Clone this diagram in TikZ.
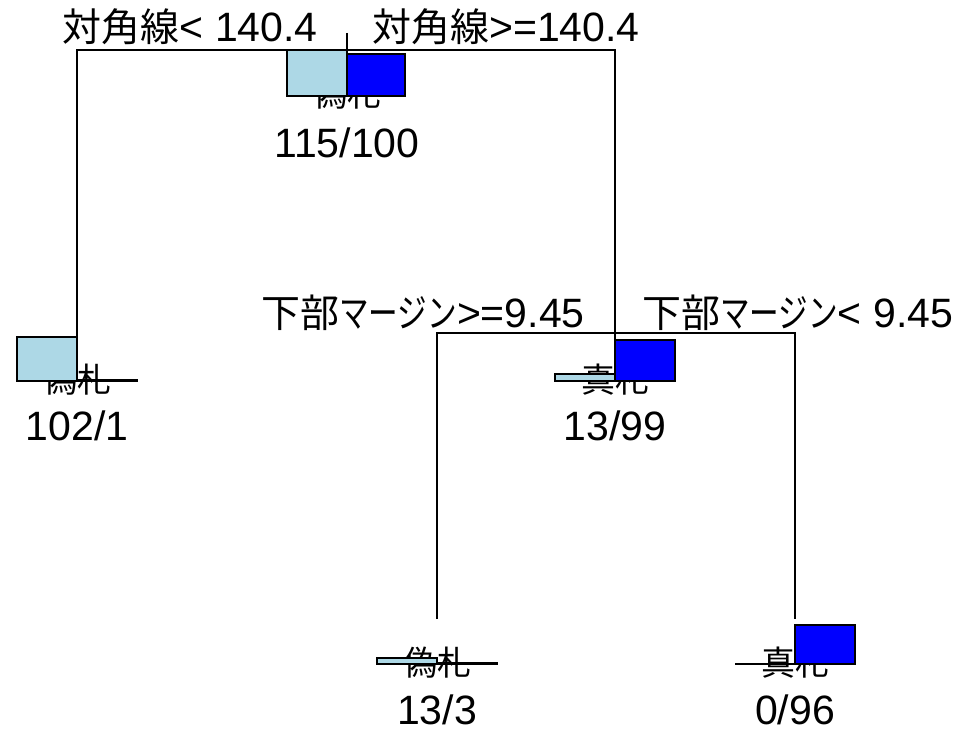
\documentclass[tikz,border=0pt]{standalone}
\usepackage{graphicx}
\usepackage{fontspec}
\setmainfont{Liberation Sans}
\newfontfamily\jp{Noto Sans CJK JP}[Scale=0.95]
\definecolor{lbcol}{HTML}{ADD8E6}
\definecolor{bcol}{HTML}{0000FF}
\newcommand{\bigfs}{\fontsize{30.75}{36}\selectfont}
\newcommand{\clsfs}{\fontsize{26.8}{32}\selectfont}
\newcommand{\narrowkana}[1]{\scalebox{0.76}[1]{#1}}
\tikzset{
  branch/.style={draw=black, line width=1pt},
  lbbar/.style={draw=black, fill=lbcol, line width=1pt},
  bbar/.style={draw=black, fill=bcol, line width=1pt},
  leftlab/.style={font=\bigfs, inner sep=0pt, anchor=base east},
  rightlab/.style={font=\bigfs, inner sep=0pt, anchor=base west},
  countlab/.style={font=\bigfs, inner sep=0pt, anchor=base},
  clslab/.style={font=\clsfs\jp, inner sep=0pt, anchor=base},
}
\begin{document}
\begin{tikzpicture}[x=0.75pt, y=-0.75pt]
\useasboundingbox (0,0) rectangle (959,734);
% node points
\coordinate (root) at (347,33);
\coordinate (rootbar) at (347,50);
\coordinate (L) at (77,381);
\coordinate (R) at (615,340);
\coordinate (Rbar) at (615,333);
\coordinate (RL) at (437,619);
\coordinate (RR) at (795,619);
% branches
\draw[branch] (root) -- (rootbar);
\draw[branch] (L) |- (rootbar) -| (R);
\draw[branch] (RL) |- (Rbar) -| (RR);
% split labels
\node[leftlab]  (s1l) at (318,42) {{\jp 対角線}< 140.4};
\node[rightlab] (s1r) at (372,42) {{\jp 対角線}>=140.4};
\node[leftlab]  (s2l) at (585,327) {{\jp 下部\narrowkana{マージン}}>=9.45};
\node[rightlab] (s2r) at (642,327) {{\jp 下部\narrowkana{マージン}}< 9.45};
% class labels
\node[clslab] (c0) at (347,107) {偽札};
\node[clslab] (c1) at (77,392) {偽札};
\node[clslab] (c2) at (615,392) {真札};
\node[clslab] (c3) at (437,675) {偽札};
\node[clslab] (c4) at (795,675) {真札};
% counts
\node[countlab] (n0) at (347,158) {115/100};
\node[countlab] (n1) at (77,440) {102/1};
\node[countlab] (n2) at (615,440) {13/99};
\node[countlab] (n3) at (437,724) {13/3};
\node[countlab] (n4) at (795,724) {0/96};
% bars
\draw[lbbar] (287,50) rectangle (347,96);
\draw[bbar]  (347,54) rectangle (405,96);
\draw[lbbar] (17,337) rectangle (77,381);
\draw[bbar, line width=1.4pt]  (77,379.5) rectangle (137,381);
\draw[lbbar] (555,374) rectangle (615,381);
\draw[bbar]  (615,340) rectangle (675,381);
\draw[lbbar] (377,658) rectangle (437,664);
\draw[bbar]  (437,662.8) rectangle (497,664);
\draw[lbbar] (735,664) rectangle (795,664);
\draw[bbar]  (795,625) rectangle (855,664);
\end{tikzpicture}
\end{document}
